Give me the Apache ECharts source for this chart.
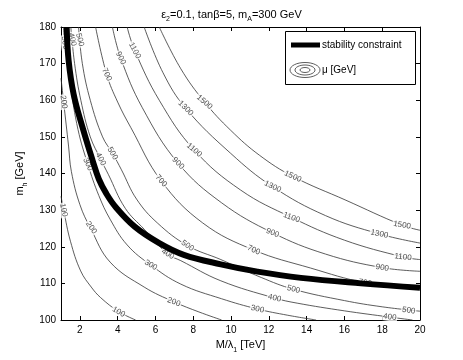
<!DOCTYPE html>
<html>
<head>
  <meta charset="utf-8">
</head>
<body style="margin: 0">
  <div id="container" style="width: 463px; height: 360px"></div>

  <script type="text/javascript" src="https://fastly.jsdelivr.net/npm/echarts@6.0.0/dist/echarts.min.js"></script>
  <script type="text/javascript">
    // tick labels
    var xTicks = [2, 4, 6, 8, 10, 12, 14, 16, 18, 20];
    var yTicks = [100, 110, 120, 130, 140, 150, 160, 170, 180];

    // contour lines of mu [GeV] (x = M/lambda1, y = m_h)
    var c100x = [1, 1.14, 1.5, 2.04, 2.6, 3.1, 4.05, 4.95];
    var c100y = [133.8, 130, 121.5, 113.4, 109, 106.1, 102.3, 100];
    var c200x = [1, 1.14, 1.4, 1.55, 2.0, 2.57, 3.6, 5.4, 7.0, 8.3, 9.5];
    var c200y = [166, 159.5, 147.5, 140.5, 131.5, 125, 115.8, 109, 104.9, 102.2, 100];
    var c300x = [1.14, 1.2, 1.5, 1.9, 2.42, 3.0, 3.6, 4.5, 5.75, 7.34, 9.5, 11.4, 13, 14.5];
    var c300y = [180, 175.7, 164, 152, 142.5, 134, 127.5, 120.5, 115, 109.8, 105.8, 103, 101.3, 100];
    var c400x = [1.52, 1.72, 2.05, 2.55, 3.1, 3.5, 4.4, 5.4, 6.65, 7.34, 9.46, 12.3, 13.5, 16, 18.4, 19.6];
    var c400y = [180, 170, 160, 150, 143.9, 139.8, 130.5, 124.8, 118, 116.2, 110.7, 106, 104.6, 102.5, 100.8, 100];
    var c500x = [1.93, 2.13, 2.55, 3.2, 3.73, 4.2, 5.0, 6.1, 7.7, 9.46, 11.6, 13.3, 16, 18, 20];
    var c500y = [180, 170, 160, 150, 145.5, 141, 133, 126.5, 120.3, 116.5, 111.6, 108.4, 105.3, 103.6, 102.4];
    var c700x = [2.83, 3.42, 4.0, 4.7, 6.3, 8.5, 11.2, 14.2, 17.1, 20];
    var c700y = [180, 167, 159.5, 152.5, 138, 126.5, 119.1, 114.2, 110.2, 108.6];
    var c900x = [3.72, 4.16, 5.3, 7.2, 9.5, 12.2, 15, 18, 20];
    var c900y = [180, 171.5, 158, 142.8, 132, 123.8, 118, 114.3, 113.3];
    var c1100x = [4.5, 4.9, 6.2, 8.05, 10.5, 13.2, 16, 19.1, 20];
    var c1100y = [180, 173.6, 160, 146.4, 135.5, 128, 121.8, 117.2, 116.5];
    var c1300x = [5.4, 6.4, 7.6, 9.98, 12.2, 15, 17.85, 20];
    var c1300y = [180, 167.5, 157.8, 145.5, 136.4, 128.5, 123.5, 121];
    var c1500x = [6.2, 7.34, 8.6, 9.98, 11.5, 13.27, 16.08, 19.05, 20];
    var c1500y = [180, 168.6, 159.5, 151.8, 145, 139.2, 132.7, 125.9, 124.5];

    // stability constraint (thick line)
    var stabX = [1.3, 1.4, 1.67, 2.14, 2.67, 3.0, 3.4, 3.9, 4.9, 6.2, 7.5, 9.46, 11.4, 13.7, 16.87, 20];
    var stabY = [180, 171, 161.6, 152.6, 143.6, 138.5, 134.5, 130.8, 125.5, 121, 117.8, 115.2, 113.2, 111.5, 110, 108.8];

    // inline contour labels
    var labelX = [1.14, 4.05, 1.14, 2.6, 6.97, 1.2, 2.42, 5.75, 11.4, 1.6, 3.1, 6.65, 12.3, 18.4,
                  2.0, 3.73, 7.7, 13.3, 19.4, 3.42, 6.3, 11.2, 17.1, 4.16, 7.2, 12.2, 18,
                  4.9, 8.05, 13.2, 19.1, 7.6, 12.2, 17.85, 8.6, 13.27, 19.05];
    var labelY = [130, 102.2, 159.5, 125.2, 104.9, 175.7, 142.5, 115, 103, 176.6, 143.9, 118, 106, 100.8,
                  176.5, 145.5, 120.3, 108.4, 102.6, 167, 138, 119.1, 110.2, 171.5, 142.8, 123.8, 114.3,
                  173.6, 146.4, 128, 117.2, 157.8, 136.4, 123.5, 159.5, 139.2, 125.9];
    var labelText = ['100', '100', '200', '200', '200', '300', '300', '300', '300', '400', '400', '400', '400', '400',
                     '500', '500', '500', '500', '500', '700', '700', '700', '700', '900', '900', '900', '900',
                     '1100', '1100', '1100', '1100', '1300', '1300', '1300', '1500', '1500', '1500'];
    var labelAngle = [-78, -30, -82, -55, -20, -82, -65, -32, -12, -78, -62, -32, -12, -8,
                      -75, -60, -35, -15, -8, -65, -48, -24, -10, -62, -45, -22, -10,
                      -62, -40, -20, -6, -45, -26, -12, -40, -25, -10];

    var FONT = 'Liberation Sans';

    var contours = [
      [c100x, c100y], [c200x, c200y], [c300x, c300y], [c400x, c400y], [c500x, c500y],
      [c700x, c700y], [c900x, c900y], [c1100x, c1100y], [c1300x, c1300y], [c1500x, c1500y]
    ];

    function pairs(xs, ys) {
      return xs.map(function (x, i) { return [x, ys[i]]; });
    }

    var series = [];
    contours.forEach(function (c) {
      series.push({
        type: 'line',
        data: pairs(c[0], c[1]),
        smooth: 0.4,
        symbol: 'none',
        silent: true,
        lineStyle: { color: '#333', width: 0.8 },
        z: 2
      });
    });

    series.push({
      type: 'scatter',
      symbolSize: 0,
      silent: true,
      z: 3,
      data: labelX.map(function (x, i) {
        return { value: [x, labelY[i]], name: labelText[i], label: { rotate: labelAngle[i] } };
      }),
      label: {
        show: true,
        position: 'inside',
        formatter: '{b}',
        fontFamily: FONT,
        fontSize: 8,
        color: '#222',
        backgroundColor: '#fff',
        padding: [0, 1]
      }
    });

    series.push({
      type: 'line',
      data: pairs(stabX, stabY),
      smooth: 0.4,
      symbol: 'none',
      silent: true,
      lineStyle: { color: '#000', width: 6 },
      z: 4
    });

    var subRich = {
      a: { fontFamily: FONT, fontSize: 11, fontWeight: 'normal', color: '#000', lineHeight: 16 },
      s: { fontFamily: FONT, fontSize: 7, fontWeight: 'normal', color: '#000', lineHeight: 8, verticalAlign: 'bottom' }
    };

    var myChart = echarts.init(document.getElementById('container'), null, { renderer: 'canvas' });

    var option = {
      animation: false,
      backgroundColor: '#fff',
      title: {
        text: '{a|ε}{s|2}{a|=0.1, tanβ=5, m}{s|A}{a|=300 GeV}',
        left: 'center',
        top: 2,
        textStyle: { fontWeight: 'normal', rich: subRich }
      },
      grid: { left: 61, right: 43, top: 27, bottom: 40 },
      xAxis: [
        {
          type: 'value', min: 1, max: 20, position: 'bottom',
          name: '{a|M/λ}{s|1}{a| [TeV]}',
          nameLocation: 'middle', nameGap: 14,
          nameTextStyle: { rich: subRich },
          axisLine: { lineStyle: { color: '#000', width: 1 } },
          axisTick: { inside: true, length: 4, customValues: xTicks, lineStyle: { color: '#000' } },
          axisLabel: { customValues: xTicks, fontFamily: FONT, fontSize: 10, color: '#000', margin: 5 },
          splitLine: { show: false }
        },
        {
          type: 'value', min: 1, max: 20, position: 'top',
          axisLine: { lineStyle: { color: '#000', width: 1 } },
          axisTick: { inside: true, length: 4, customValues: xTicks, lineStyle: { color: '#000' } },
          axisLabel: { show: false },
          splitLine: { show: false }
        }
      ],
      yAxis: [
        {
          type: 'value', min: 100, max: 180, interval: 10, position: 'left',
          name: '{a|m}{s|h}{a| [GeV]}',
          nameLocation: 'middle', nameGap: 30,
          nameTextStyle: { rich: subRich },
          axisLine: { show: true, lineStyle: { color: '#000', width: 1 } },
          axisTick: { show: true, inside: true, length: 4, lineStyle: { color: '#000' } },
          axisLabel: { fontFamily: FONT, fontSize: 10, color: '#000', margin: 5 },
          splitLine: { show: false }
        },
        {
          type: 'value', min: 100, max: 180, interval: 10, position: 'right',
          axisLine: { show: true, lineStyle: { color: '#000', width: 1 } },
          axisTick: { show: true, inside: true, length: 4, lineStyle: { color: '#000' } },
          axisLabel: { show: false },
          splitLine: { show: false }
        }
      ],
      graphic: [
        { type: 'rect', z: 10, shape: { x: 285.5, y: 31.5, width: 130, height: 53 },
          style: { fill: '#fff', stroke: '#000', lineWidth: 1 } },
        { type: 'line', z: 11, shape: { x1: 291, y1: 45, x2: 320, y2: 45 },
          style: { stroke: '#000', lineWidth: 5 } },
        { type: 'text', z: 11, x: 322, y: 45,
          style: { text: 'stability constraint', font: '10px "Liberation Sans"', fill: '#000', verticalAlign: 'middle' } },
        { type: 'ellipse', z: 11, shape: { cx: 305, cy: 70, rx: 15, ry: 7.5 },
          style: { fill: 'none', stroke: '#333', lineWidth: 0.8 } },
        { type: 'ellipse', z: 11, shape: { cx: 305, cy: 70, rx: 10, ry: 5 },
          style: { fill: 'none', stroke: '#333', lineWidth: 0.8 } },
        { type: 'ellipse', z: 11, shape: { cx: 305, cy: 70, rx: 5, ry: 2.5 },
          style: { fill: 'none', stroke: '#333', lineWidth: 0.8 } },
        { type: 'text', z: 11, x: 322, y: 70,
          style: { text: 'μ [GeV]', font: '10px "Liberation Sans"', fill: '#000', verticalAlign: 'middle' } }
      ],
      series: series
    };

    myChart.setOption(option);
    window.addEventListener('resize', myChart.resize);
  </script>
</body>
</html>
